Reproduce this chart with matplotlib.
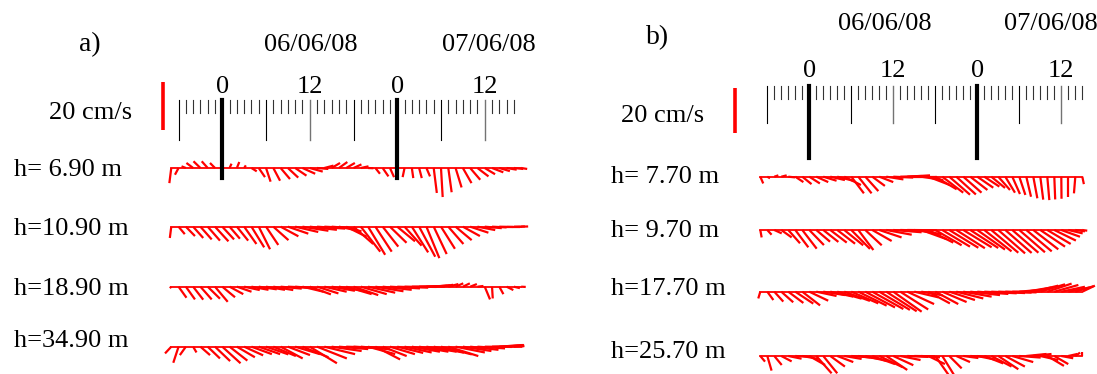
import matplotlib
matplotlib.use("Agg")
import matplotlib.pyplot as plt
import numpy as np
from matplotlib.collections import LineCollection

plt.rcParams["font.family"] = ["Liberation Serif", "DejaVu Serif"]

W, H = 1097, 374

# hourly samples, hours counted from 00:00 of 06/06/08
hours_a = np.arange(-7, 42)
hours_b = np.arange(-7, 40)

names_a = ["h= 6.90 m", "h=10.90 m", "h=18.90 m", "h=34.90 m"]
names_b = ["h= 7.70 m", "h= 9.70 m", "h=17.70 m", "h=25.70 m"]

tick_hours = [0, 12, 24, 36]
tick_text = ["0", "12", "0", "12"]
day_text = ["06/06/08", "07/06/08"]
scale_speed = 20  # cm/s

# velocity components (cm/s), panel a
u_690 = [-0.8, -1.5, -1.8, -2.8, -2.9, -2.5, -2.1,
         -0.7, 0.8, 1.0, 0.7, 2.2, 2.6, 1.9, 2.8, 3.9, 4.3,
         4.7, 5.3, 5.4, 4.7, 3.8, 3.5, 3.5, 3.6, 3.3, 3.2,
         2.2, 1.9, 2.4, 1.7, 0.0, -0.8, 0.6, 1.1, 1.5, 1.3,
         0.7, 1.4, 2.5, 3.6, 4.2, 4.6, 4.3, 4.7, 4.4, 4.2,
         3.9, 2.5]
v_690 = [-6.3, -2.8, 0.7, 2.1, 2.8, 2.8, 2.1,
         0.7, 1.8, 2.5, 1.1, -1.4, -3.8, -5.7, -5.3, -4.6, -4.0,
         -3.2, -2.4, -1.5, -0.4, 1.0, 2.1, 2.5, 2.1, 1.5, 0.7,
         -0.1, -2.4, -3.5, -3.8, -4.0, -3.8, -4.2, -4.2, -3.5, -10.4,
         -12.1, -10.1, -8.1, -6.3, -4.9, -3.5, -2.6, -1.8, -1.3, -0.7,
         -0.4, -0.4]
u_1090 = [-0.6, 2.6, 3.8, 4.2, 4.7, 5.1, 5.6,
          4.9, 4.3, 4.7, 5.1, 5.3, 4.7, 5.1, 6.3, 7.4, 8.5,
          9.6, 10.8, 11.3, 11.7, 11.4, 10.4, 9.4, 8.5, 8.2, 8.1,
          7.1, 6.8, 6.5, 6.9, 7.4, 7.1, 6.8, 6.7, 5.4, 5.4,
          5.8, 6.3, 6.7, 7.1, 7.6, 7.4, 7.1, 6.1, 5.8, 5.6,
          4.6, 2.9]
v_1090 = [-4.7, -3.1, -3.9, -4.7, -5.3, -5.8, -6.1,
          -5.3, -5.0, -5.8, -7.2, -8.6, -9.4, -7.6, -5.6, -4.0, -2.9,
          -2.2, -1.7, -1.3, -0.8, -0.6, -0.8, -1.9, -4.2, -7.2, -10.4,
          -11.7, -10.4, -8.3, -6.7, -6.1, -7.9, -10.7, -12.5, -13.1, -11.4,
          -9.2, -7.2, -5.6, -3.9, -2.5, -1.4, -0.6, -0.3, -0.1, 0.0,
          0.1, 0.1]
u_1890 = [-0.6, 3.3, 3.8, 4.2, 4.7, 5.1, 5.3,
          5.3, 5.7, 6.1, 6.5, 7.1, 7.5, 7.9, 8.3, 8.8, 9.2,
          8.9, 8.8, 8.8, 8.9, 9.3, 9.7, 10.1, 10.6, 10.3, 10.8,
          11.3, 11.7, 12.1, 12.5, 12.9, 13.3, 13.8, 14.3, 8.5, 6.8,
          5.1, 4.2, 3.2, 2.9, 2.8, 2.5, 2.2, 0.3, 1.7, 2.8,
          2.5, 1.9]
v_1890 = [-0.6, -4.6, -5.3, -5.4, -5.3, -5.0, -6.3,
          -4.4, -3.1, -2.1, -1.4, -1.3, -1.1, -1.3, -1.4, -0.8, -0.4,
          -0.7, -2.1, -3.2, -2.8, -2.1, -1.7, -1.7, -3.1, -3.5, -3.1,
          -2.5, -1.9, -1.3, -0.7, -0.4, -0.1, 0.1, 0.4, 0.4, 0.6,
          0.8, 1.1, 1.4, 1.4, 1.1, 0.3, -5.3, -4.9, -3.1, -1.4,
          -0.6, -0.1]
u_3490 = [-2.6, -2.2, -2.5, 1.4, 4.0, 5.1, 6.3,
          7.6, 7.4, 7.5, 7.9, 8.5, 8.9, 9.3, 9.4, 9.2, 9.2,
          10.3, 10.8, 11.3, 12.4, 12.8, 12.5, 12.2, 12.6, 12.4, 12.2,
          11.3, 10.3, 10.0, 10.4, 10.8, 11.3, 11.7, 12.2, 12.6, 12.6,
          12.8, 12.5, 12.2, 11.9, 11.8, 11.5, 11.3, 11.0, 9.7, 7.2,
          4.3, 1.3]
v_3490 = [-2.8, -6.7, -3.5, -2.4, -3.5, -4.9, -6.0,
          -6.9, -5.8, -4.4, -3.6, -3.1, -3.1, -3.2, -3.9, -4.9, -3.5,
          -3.1, -4.4, -6.9, -4.9, -3.1, -1.8, -1.0, -0.4, -0.6, -1.1,
          -3.1, -5.3, -3.9, -3.1, -2.6, -2.4, -2.1, -2.1, -2.1, -2.5,
          -3.2, -3.9, -2.4, -1.8, -1.3, -0.7, -0.1, 0.4, 0.7, 0.7,
          0.6, 0.3]

# velocity components (cm/s), panel b
u_770 = [1.3, 1.2, 1.8, 2.4, 3.0, 3.6, 4.1,
         4.7, 5.3, 5.9, 6.5, 7.1, 7.4, 5.6, 5.9, 5.8, 5.6,
         6.2, 7.6, 8.9, 9.5, 10.1, 9.9, 9.8, 9.6, 9.5, 9.3,
         9.2, 8.7, 8.1, 7.6, 7.1, 6.7, 6.1, 5.2, 4.3, 3.4,
         2.7, 2.1, 1.8, 1.3, 0.9, 0.4, 0.1, 0.0, -0.6, 0.7]
v_770 = [-3.0, -0.7, 0.6, 0.6, -0.3, -2.4, -3.3,
         -3.0, -2.4, -1.8, -1.5, -1.8, -3.7, -7.4, -7.4, -6.4, -4.1,
         -2.4, -1.2, -0.4, 0.3, 0.6, 0.0, -1.5, -3.7, -5.6, -7.1,
         -8.0, -7.9, -7.1, -5.9, -4.9, -4.4, -5.0, -5.9, -7.1, -7.7,
         -8.1, -8.9, -9.6, -10.2, -10.4, -10.1, -9.8, -8.9, -7.4, -3.3]
u_970 = [0.6, 1.9, 3.3, 4.6, 5.2, 5.8, 6.4,
         6.5, 6.1, 6.7, 7.3, 7.9, 8.4, 8.3, 6.7, 7.3, 8.6,
         9.9, 11.3, 12.6, 13.2, 13.0, 12.1, 11.3, 11.1, 11.7, 12.3,
         12.9, 12.7, 12.6, 12.4, 12.3, 12.1, 12.0, 11.9, 11.7, 11.6,
         11.4, 11.3, 11.1, 11.0, 10.4, 9.6, 8.3, 6.4, 4.3, 2.2]
v_970 = [-3.3, -2.1, -1.5, -3.3, -5.9, -7.7, -8.3,
         -6.7, -5.2, -5.3, -5.6, -6.1, -6.8, -8.4, -8.9, -6.8, -4.9,
         -3.3, -2.1, -1.0, -0.3, -0.1, -1.8, -4.1, -5.6, -6.8, -7.4,
         -7.9, -8.1, -7.7, -8.0, -8.7, -9.5, -10.1, -10.4, -10.2, -10.1,
         -9.9, -9.5, -8.6, -7.4, -6.2, -4.7, -3.0, -1.5, -0.6, -0.3]
u_1770 = [-0.9, 2.7, 4.0, 5.3, 6.7, 8.0, 7.9,
          8.4, 9.0, 9.6, 10.2, 10.8, 11.4, 12.0, 12.6, 13.2, 13.8,
          13.6, 13.5, 12.6, 12.4, 11.9, 10.7, 9.5, 9.6, 10.2, 10.8,
          11.4, 12.0, 12.6, 13.2, 13.8, 14.4, 15.0, 14.8, 13.9, 12.3,
          11.4, 11.3, 11.1, 11.0, 10.8, 10.7, 10.5, 9.6, 8.0, 5.6]
v_1770 = [-3.0, -3.7, -4.4, -4.7, -5.0, -5.3, -6.1,
          -4.0, -1.9, -1.5, -2.2, -3.1, -4.1, -5.2, -6.2, -7.0, -7.7,
          -8.1, -8.7, -8.9, -7.9, -5.5, -2.5, -1.6, -5.2, -5.5, -4.6,
          -3.7, -3.0, -2.2, -1.5, -1.0, -0.7, -0.6, -0.4, -0.3, 0.1,
          1.0, 1.9, 2.7, 3.3, 3.6, 3.0, 2.2, 1.9, 2.4, 2.7]
u_2570 = [2.1, 1.9, 3.3, 4.6, 5.9, 7.3, 7.1,
          7.0, 6.8, 6.2, 6.5, 7.1, 7.7, 8.3, 8.9, 9.5, 10.1,
          10.4, 9.3, 8.9, 9.0, 9.3, 9.2, 8.3, 7.4, 5.9, 5.2,
          5.5, 6.1, 6.7, 7.3, 7.9, 8.4, 9.0, 8.9, 8.7, 9.3,
          9.5, 9.0, 8.1, 8.0, 7.4, 6.2, 5.3, 4.0, 2.1, 0.0]
v_2570 = [-2.5, -6.5, -4.0, -2.4, -1.2, -0.4, -1.3,
          -4.0, -7.7, -7.7, -4.7, -2.7, -1.3, -0.6, -1.2, -2.2, -3.6,
          -5.0, -6.2, -4.1, -1.8, -0.4, -0.1, -0.6, -3.6, -8.4, -8.4,
          -5.5, -2.7, -0.9, -0.4, -1.6, -3.3, -4.7, -5.9, -4.7, -2.7,
          -0.7, 0.9, 0.9, -1.8, -4.4, -3.6, -1.0, 0.9, 1.5, 1.8]

rows_a = [(u_690, v_690), (u_1090, v_1090), (u_1890, v_1890), (u_3490, v_3490)]
rows_b = [(u_770, v_770), (u_970, v_970), (u_1770, v_1770), (u_2570, v_2570)]

# layout of each panel in pixels
geo_a = dict(x0=222.3, pxh=7.29, pxc=2.4, base=[168, 226.7, 286.7, 346.7],
             label_x=14, label_y=[170, 229, 289, 341], span=(-6, 40),
             tick_top=100, minor_bot=113, major_bot=140, thick_bot=178,
             hour_y=87, date_x=[311, 489], date_y=45, tag="a)", tag_xy=(90, 45),
             bar_x=163, bar_bot=130, bar_text=(132, 113))
geo_b = dict(x0=809.3, pxh=7.0, pxc=2.25, base=[176.7, 230, 291.7, 356],
             label_x=611, label_y=[177, 231, 289, 352], span=(-6, 39),
             tick_top=86, minor_bot=99, major_bot=123, thick_bot=158,
             hour_y=71, date_x=[885, 1051], date_y=24, tag="b)", tag_xy=(658, 38),
             bar_x=735, bar_bot=133, bar_text=(704, 116))

FS = 19


def draw_panel(ax, g, hours, rows, names):
    x0, pxh, pxc = g["x0"], g["pxh"], g["pxc"]
    ax.set_xlim(-x0 / pxh, (W - x0) / pxh)
    ax.set_ylim(0, H / pxc)
    ax.axis("off")

    def X(px):
        return (px - x0) / pxh

    def Y(py):
        return (H - py) / pxc

    k = pxc / pxh  # hours per cm/s, so both directions share one scale

    for (u, v), base, name, ly in zip(rows, g["base"], names, g["label_y"]):
        y0 = Y(base)
        segs = [[(t, y0), (t + k * uu, y0 + vv)] for t, uu, vv in zip(hours, u, v)]
        ax.add_collection(LineCollection(segs, colors="red", linewidths=1.6))
        ax.plot([hours[0], hours[-1]], [y0, y0], color="red", lw=1.3)
        ax.text(X(g["label_x"]), Y(ly), name, ha="left", va="center", fontsize=FS)

    # time axis
    t0, t1 = g["span"]
    for h in range(t0, t1 + 1):
        if h % 24 == 0:
            ax.plot([h, h], [Y(g["tick_top"]), Y(g["thick_bot"])], color="black", lw=3.0)
        elif h % 12 == 0:
            ax.plot([h, h], [Y(g["tick_top"]), Y(g["major_bot"])], color="0.45", lw=1.0)
        elif h % 6 == 0:
            ax.plot([h, h], [Y(g["tick_top"]), Y(g["major_bot"])], color="black", lw=0.8)
        else:
            ax.plot([h, h], [Y(g["tick_top"]), Y(g["minor_bot"])], color="0.2", lw=0.8)

    for h, s in zip(tick_hours, tick_text):
        ax.text(h, Y(g["hour_y"]), s, ha="center", va="center", fontsize=FS)
    for dx, s in zip(g["date_x"], day_text):
        ax.text(X(dx), Y(g["date_y"]), s, ha="center", va="center", fontsize=FS)

    # speed scale bar
    bx = X(g["bar_x"])
    ax.plot([bx, bx], [Y(g["bar_bot"]), Y(g["bar_bot"]) + scale_speed],
            color="red", lw=2.6, solid_capstyle="butt")
    tx, ty = g["bar_text"]
    ax.text(X(tx), Y(ty), f"{scale_speed} cm/s", ha="right", va="center", fontsize=FS)
    ax.text(X(g["tag_xy"][0]), Y(g["tag_xy"][1]), g["tag"], ha="center", va="center",
            fontsize=FS + 1)


fig = plt.figure(figsize=(W / 100, H / 100), dpi=100)
ax_a = fig.add_axes([0, 0, 1, 1])
ax_a.patch.set_alpha(0)
ax_b = fig.add_axes([0, 0, 1, 1])
ax_b.patch.set_alpha(0)

draw_panel(ax_a, geo_a, hours_a, rows_a, names_a)
draw_panel(ax_b, geo_b, hours_b, rows_b, names_b)

fig.savefig("out.png", dpi=100)
